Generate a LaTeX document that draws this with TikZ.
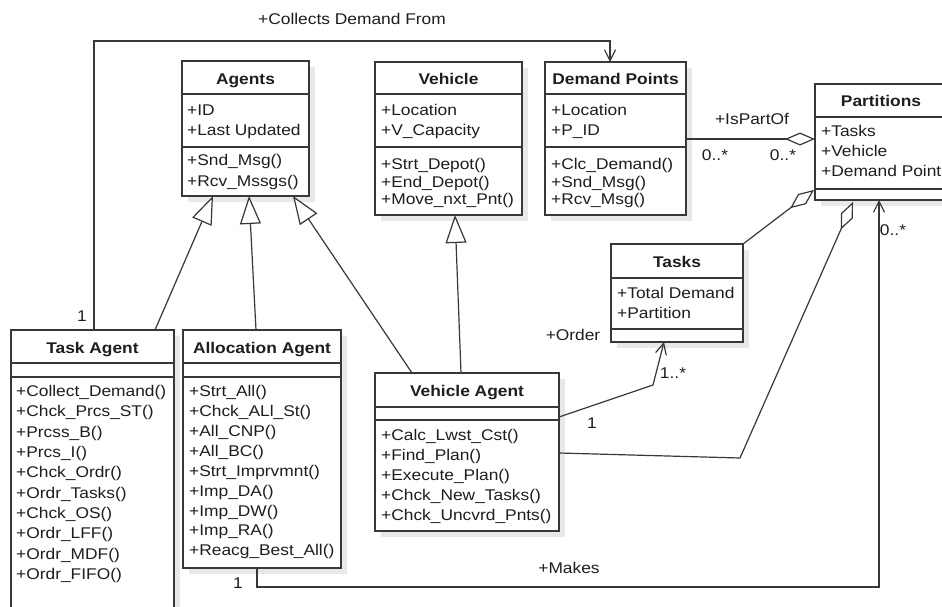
\documentclass[tikz,border=0pt]{standalone}
\usepackage{fontspec}
\setmainfont[FakeStretch=1.12]{Liberation Sans}
\usetikzlibrary{arrows.meta,calc}

\definecolor{ink}{HTML}{1E1E1E}
\definecolor{edge}{HTML}{383838}
\definecolor{shadowgray}{HTML}{E8E8E8}

% class box: name, left, top, right, bottom, header rule, separator rule
\newcommand{\umlbox}[7]{%
  \fill[fill=shadowgray] (#2+6,#3+6) rectangle (#4+6,#5+6);
  \node[box, minimum width=#4-#2, minimum height=#5-#3] (#1) at (#2,#3) {};
  \draw[rule] (#2,#6) -- (#4,#6) (#2,#7) -- (#4,#7);
}

\begin{document}
\begin{tikzpicture}[x=1pt,y=-1pt,
  every node/.style={font=\fontsize{15.5}{20}\selectfont, text=ink},
  box/.style={draw=edge, line width=1.7pt, fill=white, inner sep=0pt, outer sep=0pt, anchor=north west},
  rule/.style={draw=edge, line width=1.7pt},
  txt/.style={anchor=west, inner sep=0pt, text height=11.2pt, text depth=0pt},
  hdr/.style={inner sep=0pt, text height=11.2pt, text depth=0pt, font=\fontsize{15.5}{20}\selectfont\bfseries},
  lbl/.style={inner sep=0pt, text height=11.2pt, text depth=0pt},
  conn/.style={draw=edge, line width=1.2pt},
  gen/.style={conn, -{Triangle[length=28pt,width=21pt,fill=white]}},
  agg/.style={conn, -{Diamond[length=30pt,width=13pt,fill=white]}},
  nav/.style={conn, -{Straight Barb[length=11pt,width=11pt]}},
]
\path[use as bounding box, clip] (0,0) rectangle (942,607);
\fill[white] (0,0) rectangle (942,607);

% ---------- classes ----------
\umlbox{agents}{182}{61}{309}{196}{94}{147}
\node[hdr, name=agents-h] at (245.5,79) {Agents};
\foreach \t [count=\i] in {+ID, +Last Updated}
  \node[txt, name=agents-a\i] at (187,{110+(\i-1)*20}) {\t};
\foreach \t [count=\i] in {+Snd\_Msg(), +Rcv\_Mssgs()}
  \node[txt, name=agents-m\i] at (187,{160+(\i-1)*21}) {\t};

\umlbox{veh}{375}{62}{522}{215}{94}{147}
\node[hdr, name=veh-h] at (448.5,79) {Vehicle};
\foreach \t [count=\i] in {+Location, +V\_Capacity}
  \node[txt, name=veh-a\i] at (381,{110+(\i-1)*20}) {\t};
\foreach \t [count=\i] in {+Strt\_Depot(), +End\_Depot(), +Move\_nxt\_Pnt()}
  \node[txt, name=veh-m\i] at (381,{164+(\i-1)*17.5}) {\t};

\umlbox{dp}{545}{62}{686}{215}{94}{147}
\node[hdr, name=dp-h] at (615.5,79) {Demand Points};
\foreach \t [count=\i] in {+Location, +P\_ID}
  \node[txt, name=dp-a\i] at (551,{110+(\i-1)*20}) {\t};
\foreach \t [count=\i] in {+Clc\_Demand(), +Snd\_Msg(), +Rcv\_Msg()}
  \node[txt, name=dp-m\i] at (551,{164+(\i-1)*17.5}) {\t};

\umlbox{part}{815}{84}{948}{200}{117}{189}
\node[hdr, name=part-h] at (881,101) {Partitions};
\foreach \t [count=\i] in {+Tasks, +Vehicle, +Demand Point}
  \node[txt, name=part-a\i] at (821,{131+(\i-1)*20}) {\t};

\umlbox{tasks}{611}{244}{743}{342}{278}{329}
\node[hdr, name=tasks-h] at (677,262) {Tasks};
\foreach \t [count=\i] in {+Total Demand, +Partition}
  \node[txt, name=tasks-a\i] at (617,{293+(\i-1)*20}) {\t};

\umlbox{ta}{11}{330}{174}{640}{363}{377}
\node[hdr, name=ta-h] at (92.5,348) {Task Agent};
\foreach \t [count=\i] in {+Collect\_Demand(), +Chck\_Prcs\_ST(), +Prcss\_B(), +Prcs\_I(),
    +Chck\_Ordr(), +Ordr\_Tasks(), +Chck\_OS(), +Ordr\_LFF(), +Ordr\_MDF(), +Ordr\_FIFO()}
  \node[txt, name=ta-m\i] at (16,{391+(\i-1)*20.3}) {\t};

\umlbox{aa}{183}{330}{341}{568}{363}{377}
\node[hdr, name=aa-h] at (262,348) {Allocation Agent};
\foreach \t [count=\i] in {+Strt\_All(), +Chck\_ALl\_St(), +All\_CNP(), +All\_BC(),
    +Strt\_Imprvmnt(), +Imp\_DA(), +Imp\_DW(), +Imp\_RA(), +Reacg\_Best\_All()}
  \node[txt, name=aa-m\i] at (189,{391+(\i-1)*19.9}) {\t};

\umlbox{va}{375}{373}{559}{531}{407}{420}
\node[hdr, name=va-h] at (467,391) {Vehicle Agent};
\foreach \t [count=\i] in {+Calc\_Lwst\_Cst(), +Find\_Plan(), +Execute\_Plan(),
    +Chck\_New\_Tasks(), +Chck\_Uncvrd\_Pnts()}
  \node[txt, name=va-m\i] at (381,{435+(\i-1)*20}) {\t};

% ---------- generalisations ----------
\draw[gen] ($(ta.north west)+(144,0)$) -- ($(agents.south west)+(31,0)$);
\draw[gen] ($(aa.north west)+(73,0)$) -- ($(agents.south west)+(67,0)$);
\draw[gen] ($(va.north west)+(37,0)$) -- ($(agents.south west)+(111,0)$);
\draw[gen] ($(va.north west)+(86,0)$) -- ($(veh.south west)+(80,0)$);

% ---------- aggregations ----------
\draw[agg] ($(dp.north east)+(0,77)$) -- ($(part.north west)+(0,55)$);
\draw[agg] (tasks.north east) -- ($(part.north west)+(-1,106)$);
\coordinate (vbend) at (740,458);
\draw[agg] ($(va.north east)+(0,80)$) -- (vbend) -- ($(part.south west)+(38,2)$);

% ---------- associations ----------
\draw[nav] ($(ta.north west)+(83,0)$) -- ($(ta.north west)+(83,-289)$) -| ($(dp.north west)+(65,0)$);
\coordinate (obend) at (653,385);
\draw[nav] ($(va.north east)+(0,44)$) -- (obend) -- ($(tasks.south west)+(53,0)$);
\draw[nav] ($(aa.south west)+(74,0)$) |- ($(part.south west)+(64,387)$) -- ($(part.south west)+(64,0)$);

% ---------- labels ----------
\node[lbl, name=l-collects] at (352,19) {+Collects Demand From};
\node[lbl, name=l-ta-one] at (82,316) {1};
\node[lbl, name=l-ispartof] at (752,119) {+IsPartOf};
\node[lbl, name=l-dp-mult] at (715,155) {0..*};
\node[lbl, name=l-part-mult] at (783,155) {0..*};
\node[lbl, name=l-order] at (573,335) {+Order};
\node[lbl, name=l-va-one] at (592,423) {1};
\node[lbl, name=l-tasks-mult] at (673,373) {1..*};
\node[lbl, name=l-makes] at (569,568) {+Makes};
\node[lbl, name=l-aa-one] at (238,583) {1};
\node[lbl, name=l-makes-mult] at (893,230) {0..*};
\end{tikzpicture}
\end{document}
